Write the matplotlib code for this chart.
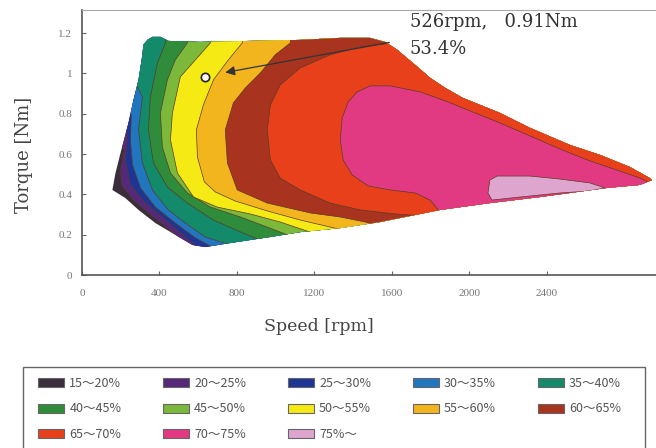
import matplotlib.pyplot as plt
from matplotlib.patches import Polygon, Patch, Rectangle

# efficiency bands, lowest first
band_labels = ['15～20%', '20～25%', '25～30%', '30～35%', '35～40%',
               '40～45%', '45～50%', '50～55%', '55～60%', '60～65%',
               '65～70%', '70～75%', '75%～']
band_colors = ['#3a2d3c', '#55287a', '#1e3596', '#2176c0', '#138a6a',
               '#2f8c3a', '#7cb83a', '#f6ea14', '#f2b51e', '#a8331f',
               '#e8401a', '#e23a82', '#dea6cf']

# operating envelope (rpm, Nm)
envelope = [(317, 1.141), (338, 1.166), (364, 1.181), (405, 1.181), (446, 1.161),
            (611, 1.156), (869, 1.161), (1127, 1.166), (1334, 1.176), (1488, 1.176),
            (1566, 1.156), (1628, 1.117), (1721, 1.042), (1798, 0.978), (1876, 0.928),
            (1968, 0.878), (2159, 0.804), (2314, 0.730), (2521, 0.645), (2675, 0.596),
            (2830, 0.536), (2933, 0.481), (2944, 0.471),
            (2882, 0.447), (2711, 0.432), (2366, 0.387), (2107, 0.357), (1850, 0.323),
            (1747, 0.303), (1540, 0.263), (1334, 0.233), (1127, 0.213), (973, 0.189),
            (766, 0.159), (637, 0.139), (570, 0.149), (467, 0.208), (379, 0.258),
            (292, 0.323), (224, 0.382), (157, 0.422),
            (173, 0.506), (199, 0.605), (240, 0.754), (266, 0.868), (292, 0.968),
            (312, 1.092)]

# lower edge of each band (efficiency >= level), from top/left to bottom
edge_20 = [(100, 0.75), (219, 0.620), (199, 0.521), (204, 0.447), (266, 0.372),
           (369, 0.288), (467, 0.213), (550, 0.144)]
edge_25 = [(100, 0.85), (235, 0.695), (224, 0.571), (250, 0.447), (328, 0.357),
           (431, 0.273), (534, 0.189), (586, 0.144)]
edge_30 = [(100, 0.95), (255, 0.794), (250, 0.670), (261, 0.546), (302, 0.432),
           (379, 0.337), (482, 0.258), (586, 0.184), (673, 0.139)]
edge_35 = [(200, 1.05), (286, 0.933), (312, 0.883), (292, 0.720), (312, 0.556),
           (364, 0.422), (446, 0.323), (534, 0.258), (637, 0.189), (766, 0.149)]
edge_40 = [(431, 1.3), (431, 1.151), (390, 1.052), (353, 0.883), (343, 0.720),
           (369, 0.556), (441, 0.437), (544, 0.357), (679, 0.273), (833, 0.208),
           (947, 0.164)]
edge_45 = [(544, 1.3), (544, 1.151), (482, 1.067), (441, 0.968), (405, 0.804),
           (415, 0.635), (457, 0.506), (544, 0.407), (663, 0.337), (818, 0.288),
           (957, 0.238), (1102, 0.184)]
edge_50 = [(663, 1.3), (663, 1.151), (586, 1.067), (508, 0.983), (467, 0.804),
           (457, 0.670), (493, 0.506), (576, 0.387), (699, 0.337), (869, 0.303),
           (1024, 0.263), (1179, 0.213), (1282, 0.184)]
edge_55 = [(828, 1.3), (828, 1.151), (756, 1.067), (679, 0.968), (627, 0.844),
           (591, 0.720), (596, 0.586), (632, 0.462), (689, 0.412), (792, 0.367),
           (957, 0.318), (1127, 0.273), (1282, 0.238), (1463, 0.194)]
edge_60 = [(1076, 1.3), (1076, 1.151), (998, 1.092), (921, 1.002), (844, 0.928),
           (782, 0.854), (740, 0.720), (751, 0.556), (802, 0.422), (957, 0.357),
           (1179, 0.308), (1334, 0.288), (1463, 0.263), (1592, 0.223)]
edge_65 = [(1600, 1.3), (1566, 1.146), (1437, 1.132), (1282, 1.092), (1127, 1.027),
           (1024, 0.943), (973, 0.844), (957, 0.720), (973, 0.571), (1024, 0.481),
           (1127, 0.422), (1282, 0.357), (1437, 0.323), (1618, 0.303), (1772, 0.293),
           (1850, 0.248)]
# closed islands
island_70 = [(1334, 0.670), (1344, 0.779), (1375, 0.859), (1421, 0.908), (1488, 0.938),
             (1592, 0.938), (1747, 0.908), (1876, 0.864), (2004, 0.814), (2159, 0.754),
             (2314, 0.690), (2469, 0.625), (2623, 0.566), (2778, 0.516), (2882, 0.481),
             (2933, 0.457), (2950, 0.30), (1900, 0.20), (1901, 0.223), (1850, 0.313),
             (1798, 0.372), (1721, 0.407), (1592, 0.422), (1478, 0.442), (1396, 0.496),
             (1349, 0.571)]
island_75 = [(2097, 0.407), (2107, 0.471), (2144, 0.491), (2314, 0.491), (2469, 0.476),
             (2623, 0.457), (2701, 0.432), (2623, 0.417), (2469, 0.407), (2262, 0.387),
             (2118, 0.372)]

band_edges = [edge_20, edge_25, edge_30, edge_35, edge_40,
              edge_45, edge_50, edge_55, edge_60, edge_65]

# marked operating point
mark_rpm, mark_nm = 637, 0.983
arrow_from = (1602, 1.156)
arrow_to = (726, 1.002)

XMAX, YMAX = 2965, 1.315

fig = plt.figure(figsize=(6.56, 4.48), dpi=100)
ax = fig.add_axes([0.125, 0.386, 0.875, 0.592])

env = Polygon(envelope, closed=True, facecolor=band_colors[0], edgecolor='none', zorder=1)
ax.add_patch(env)

line_c = '#5a3a28'
for i, edge in enumerate(band_edges):
    pts = edge + [(edge[-1][0], -1), (6000, -1), (6000, 3), (edge[0][0], 3)]
    p = Polygon(pts, closed=True, facecolor=band_colors[i + 1],
                edgecolor=line_c, linewidth=0.5, zorder=2 + i)
    ax.add_patch(p)
    p.set_clip_path(env)

for j, isl in enumerate([island_70, island_75]):
    p = Polygon(isl, closed=True, facecolor=band_colors[11 + j],
                edgecolor=line_c, linewidth=0.5, zorder=20 + j)
    ax.add_patch(p)
    p.set_clip_path(env)

# annotation
ax.plot(mark_rpm, mark_nm, 'o', ms=6, mfc='white', mec='#222', mew=1.2, zorder=30)
ax.annotate('', xy=arrow_to, xytext=arrow_from,
            arrowprops=dict(arrowstyle='-|>', color='#333', lw=0.9, mutation_scale=14),
            zorder=31)
ax.text(1695, 1.256, '526rpm,   0.91Nm', family='DejaVu Serif', fontsize=13,
        color='#333', va='center', ha='left')
ax.text(1690, 1.122, '53.4%', family='DejaVu Serif', fontsize=13,
        color='#333', va='center', ha='left')

ax.set_xlim(0, XMAX)
ax.set_ylim(0, YMAX)
ax.set_xticks([0, 400, 800, 1200, 1600, 2000, 2400])
ax.set_yticks([0, 0.2, 0.4, 0.6, 0.8, 1.0, 1.2])
ax.set_yticklabels(['0', '0.2', '0.4', '0.6', '0.8', '1', '1.2'])
ax.tick_params(direction='in', length=3, width=0.8, colors='#666', labelsize=8)
ax.tick_params(axis='x', pad=10)
ax.tick_params(axis='y', pad=7)
for lab in ax.get_xticklabels() + ax.get_yticklabels():
    lab.set_family('Liberation Serif')
    lab.set_color('#777')

ax.spines['right'].set_visible(False)
ax.spines['top'].set_color('#aaa')
ax.spines['top'].set_linewidth(0.8)
for s in ['left', 'bottom']:
    ax.spines[s].set_color('#555')
    ax.spines[s].set_linewidth(1.2)

ax.set_xlabel('Speed [rpm]', family='DejaVu Serif', fontsize=12.5, color='#444')
ax.set_ylabel('Torque [Nm]', family='DejaVu Serif', fontsize=13, color='#444')
ax.xaxis.set_label_coords(0.413, -0.16)
ax.yaxis.set_label_coords(-0.085, 0.453)

# legend, filled row by row, with its own frame
handles = [Patch(facecolor=c, edgecolor='#666', linewidth=0.8) for c in band_colors]
order = [0, 5, 10, 1, 6, 11, 2, 7, 12, 3, 8, 4, 9]
leg = fig.legend([handles[k] for k in order], [band_labels[k] for k in order],
                 ncol=5, loc='upper left', bbox_to_anchor=(38 / 656, 1 - 377 / 448),
                 borderaxespad=0, borderpad=0, frameon=False,
                 prop={'family': ['Noto Sans CJK JP'], 'size': 9},
                 labelcolor='#555', handlelength=2.1, handleheight=0.72,
                 handletextpad=0.4, labelspacing=1.0, columnspacing=3.33)
fig.add_artist(Rectangle((23 / 656, -0.02), 622 / 656, 0.02 + 1 - 367 / 448,
                         transform=fig.transFigure, fill=False,
                         edgecolor='#666', linewidth=1.0))

fig.savefig('out.png', dpi=100)
